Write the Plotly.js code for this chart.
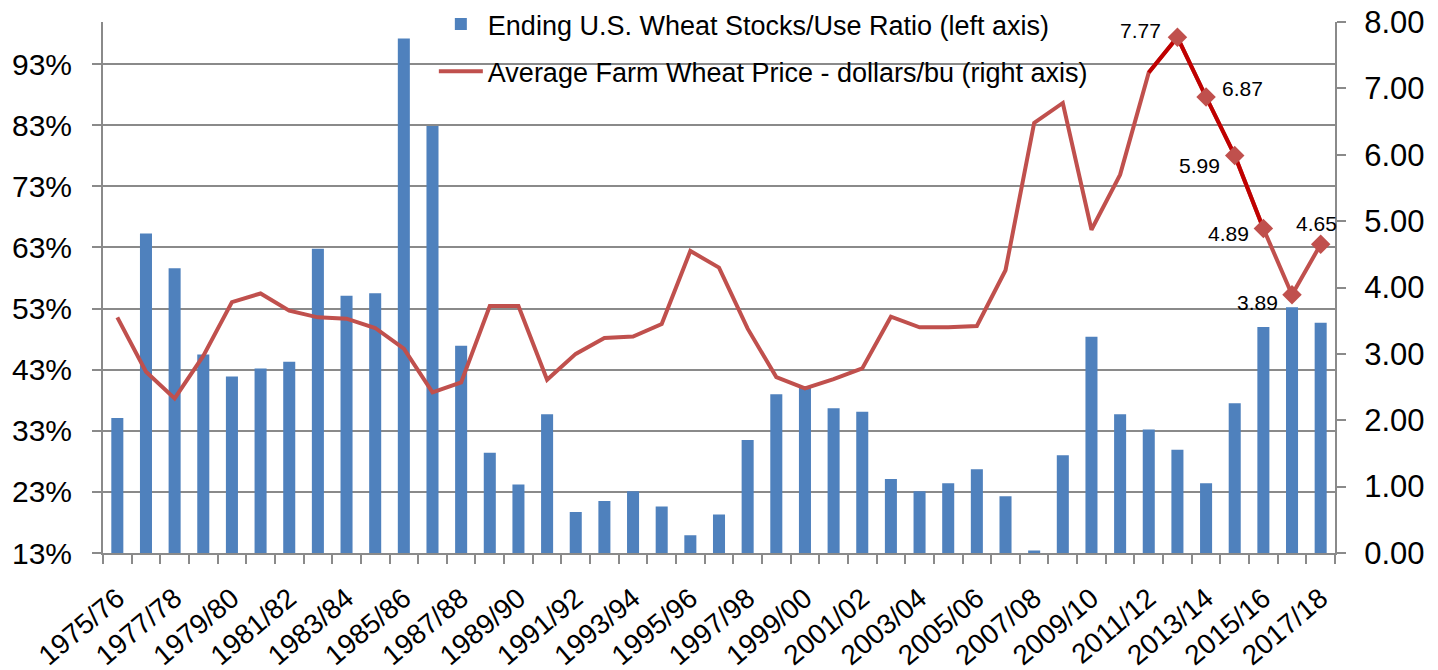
<!DOCTYPE html>
<html>
<head>
<meta charset="utf-8">
<script src="https://cdn.plot.ly/plotly-3.0.1.min.js"></script>
<style>html,body{margin:0;padding:0;background:#fff;}#chart{width:1438px;height:670px;}</style>
</head>
<body>
<div id="chart"></div>
<script>
const categories = ["1975/76","1976/77","1977/78","1978/79","1979/80","1980/81","1981/82","1982/83","1983/84","1984/85",
  "1985/86","1986/87","1987/88","1988/89","1989/90","1990/91","1991/92","1992/93","1993/94","1994/95",
  "1995/96","1996/97","1997/98","1998/99","1999/00","2000/01","2001/02","2002/03","2003/04","2004/05",
  "2005/06","2006/07","2007/08","2008/09","2009/10","2010/11","2011/12","2012/13","2013/14","2014/15",
  "2015/16","2016/17","2017/18"];
const stocksUseRatio = [35.1,65.3,59.6,45.5,41.9,43.2,44.3,62.8,55.1,55.5,
  97.2,82.9,46.9,29.4,24.2,35.7,19.7,21.5,23.1,20.6,
  15.9,19.3,31.5,39.0,40.3,36.7,36.1,25.1,23.1,24.4,
  26.7,22.3,13.4,29.0,48.4,35.7,33.2,29.9,24.4,37.5,
  50.0,53.2,50.7];
const farmPrice = [3.55,2.73,2.33,2.97,3.78,3.91,3.65,3.55,3.53,3.39,
  3.08,2.42,2.57,3.72,3.72,2.61,3.00,3.24,3.26,3.45,
  4.55,4.30,3.38,2.65,2.48,2.62,2.78,3.56,3.40,3.40,
  3.42,4.26,6.48,6.78,4.87,5.70,7.24,7.77,6.87,5.99,
  4.89,3.89,4.65];
const seriesNames = ["Ending U.S. Wheat Stocks/Use Ratio (left axis)", "Average Farm Wheat Price - dollars/bu (right axis)"];
// tick labels: every other season
const tickLabels = categories.map((c, i) => (i % 2 === 0 ? c : ""));
// tick marks between categories (category boundaries)
const boundaryTicks = categories.map((c, i) => i - 0.5).concat([categories.length - 0.5]);
// highlighted points (dark segment and labelled markers)
const highlightStart = 36, highlightEnd = 40, markerStart = 37;

const FONT = '"Liberation Sans", Arial, sans-serif';
const GRID = '#8a8a8a';

const traces = [
  {
    type: 'bar', name: seriesNames[0], x: categories, y: stocksUseRatio,
    marker: {color: '#4F81BD'}, width: 0.42, yaxis: 'y', legendgroup: 'a'
  },
  {
    type: 'scatter', mode: 'lines', name: seriesNames[1], x: categories, y: farmPrice,
    line: {color: '#C0504D', width: 4}, yaxis: 'y2', legendgroup: 'b'
  },
  {
    type: 'scatter', mode: 'lines', showlegend: false,
    x: categories.slice(highlightStart, highlightEnd + 1), y: farmPrice.slice(highlightStart, highlightEnd + 1),
    line: {color: '#C00000', width: 4}, yaxis: 'y2', hoverinfo: 'skip'
  },
  {
    type: 'scatter', mode: 'markers', showlegend: false,
    x: categories.slice(markerStart), y: farmPrice.slice(markerStart),
    marker: {symbol: 'diamond', size: 15, color: '#C0504D'}, yaxis: 'y2'
  },
  // empty helper trace so the boundary-tick axis (x2) is drawn
  {
    type: 'scatter', mode: 'lines', showlegend: false, hoverinfo: 'skip',
    x: [], y: [], xaxis: 'x2', yaxis: 'y'
  }
];

// data labels placement (style only)
const labelStyle = [
  {xanchor: 'right', xshift: -14, yshift: 7},
  {xanchor: 'left', xshift: 14, yshift: 9},
  {xanchor: 'right', xshift: -13, yshift: -10},
  {xanchor: 'right', xshift: -12, yshift: -5},
  {xanchor: 'right', xshift: -12, yshift: -8},
  {xanchor: 'center', xshift: -4, yshift: 21}
];
const annotations = categories.slice(markerStart).map((c, i) => ({
  x: c, y: farmPrice[markerStart + i], xref: 'x', yref: 'y2',
  text: farmPrice[markerStart + i].toFixed(2), showarrow: false,
  xanchor: labelStyle[i].xanchor, yanchor: 'middle',
  xshift: labelStyle[i].xshift, yshift: labelStyle[i].yshift,
  font: {family: FONT, size: 21, color: '#000'}
}));

const layout = {
  width: 1438, height: 670,
  margin: {l: 103, r: 103, t: 22, b: 117, autoexpand: false},
  paper_bgcolor: '#fff', plot_bgcolor: '#fff',
  font: {family: FONT, color: '#000'},
  showlegend: true,
  legend: {
    xref: 'container', yref: 'container',
    x: 0.3017, y: 1.0, xanchor: 'left', yanchor: 'top',
    bgcolor: 'rgba(0,0,0,0)', font: {family: FONT, size: 27, color: '#000'},
    traceorder: 'grouped', tracegroupgap: 9, itemwidth: 44
  },
  xaxis: {
    type: 'category', tickvals: categories, ticktext: tickLabels,
    tickangle: -40, ticks: 'outside', ticklen: 10, tickcolor: 'rgba(0,0,0,0)', ticklabelstandoff: 6,
    showline: true, linecolor: GRID, linewidth: 2, showgrid: false, zeroline: false,
    tickfont: {family: FONT, size: 28, color: '#000'},
    range: [-0.5, categories.length - 0.5], fixedrange: true, automargin: false
  },
  xaxis2: {
    type: 'linear', overlaying: 'x', anchor: 'y', side: 'bottom',
    range: [-0.5, categories.length - 0.5], tickmode: 'array', tickvals: boundaryTicks,
    ticks: 'outside', ticklen: 10, tickwidth: 2, tickcolor: GRID,
    showticklabels: false, showline: false, showgrid: false, zeroline: false, automargin: false
  },
  yaxis: {
    range: [13, 99.9], tick0: 13, dtick: 10, ticksuffix: '%',
    ticks: 'outside', ticklen: 9, tickwidth: 2, tickcolor: GRID,
    showline: true, linecolor: GRID, linewidth: 2,
    showgrid: true, gridcolor: GRID, gridwidth: 2, zeroline: false,
    tickfont: {family: FONT, size: 30, color: '#000'}, ticklabelstandoff: 14, automargin: false
  },
  yaxis2: {
    range: [0, 8], dtick: 1, tickformat: '.2f', overlaying: 'y', side: 'right',
    ticks: 'outside', ticklen: 9, tickwidth: 2, tickcolor: GRID,
    showline: true, linecolor: GRID, linewidth: 2, showgrid: false, zeroline: false,
    tickfont: {family: FONT, size: 31, color: '#000'}, ticklabelstandoff: 12, automargin: false
  },
  annotations: annotations
};

Plotly.newPlot('chart', traces, layout, {displayModeBar: false, staticPlot: true});
</script>
</body>
</html>
